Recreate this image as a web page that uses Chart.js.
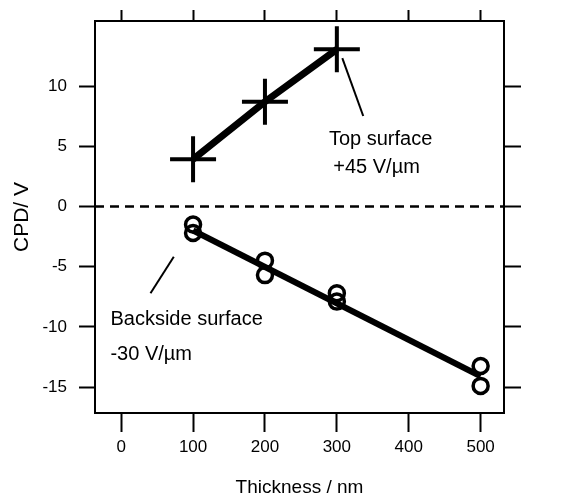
<!DOCTYPE html>
<html><head><meta charset="utf-8">
<script src="https://cdn.jsdelivr.net/npm/chart.js@4/dist/chart.umd.min.js"></script>
<style>html,body{margin:0;padding:0;background:#fff;}</style>
</head><body>
<canvas id="c" width="576" height="496" style="width:576px;height:496px;display:block"></canvas>
<script>
// ---- data ----
const thicknessTop = [100, 200, 300];
const cpdTop = [3.92, 8.7, 13.05];
const thicknessBack = [100, 100, 200, 200, 300, 300, 500, 500];
const cpdBack = [-1.5, -2.2, -4.5, -5.7, -7.2, -7.9, -13.25, -14.9];
const fitBackX = [100, 500];
const fitBackY = [-2.0, -14.1];
const xTicks = [0, 100, 200, 300, 400, 500];
const yTicks = [-15, -10, -5, 0, 5, 10];
const xRange = [-36.4, 532.5];
const yRange = [-17.15, 15.4];
const zeroLineY = 0;

const annotationTexts = [
  {text: 'Top surface', x: 289, y: 5.1},
  {text: '+45 V/\u00b5m', x: 295, y: 2.78},
  {text: 'Backside surface', x: -14.9, y: -9.87},
  {text: '-30 V/\u00b5m', x: -14.9, y: -12.74}
];
const leaderLines = [
  {x1: 307.6, y1: 12.32, x2: 336.7, y2: 7.51},
  {x1: 73.2, y1: -4.17, x2: 40.8, y2: -7.2}
];

const FONT = "'Liberation Sans', Arial, Helvetica, sans-serif";
const zip = (xs, ys) => xs.map((x, i) => ({x: x, y: ys[i]}));

const annotPlugin = {
  id: 'annot',
  afterDatasetsDraw(chart) {
    const ctx = chart.ctx, sx = chart.scales.x, sy = chart.scales.y;
    ctx.save();
    ctx.strokeStyle = '#000';
    ctx.lineWidth = 2;
    leaderLines.forEach(l => {
      ctx.beginPath();
      ctx.moveTo(sx.getPixelForValue(l.x1), sy.getPixelForValue(l.y1));
      ctx.lineTo(sx.getPixelForValue(l.x2), sy.getPixelForValue(l.y2));
      ctx.stroke();
    });
    ctx.fillStyle = '#000';
    ctx.font = '20px ' + FONT;
    ctx.textAlign = 'left';
    ctx.textBaseline = 'alphabetic';
    annotationTexts.forEach(a => {
      ctx.fillText(a.text, sx.getPixelForValue(a.x), sy.getPixelForValue(a.y));
    });
    ctx.restore();
  }
};

function forceTicks(vals) { return s => { s.ticks = vals.map(v => ({value: v})); }; }
function axis(pos, range, ticksArr, size, tickLen, showLabels, pad) {
  const horiz = pos === 'top' || pos === 'bottom';
  return {
    type: 'linear', position: pos, min: range[0], max: range[1],
    afterBuildTicks: forceTicks(ticksArr),
    afterFit: s => {
      if (horiz) s.height = size; else s.width = size;
      s.paddingTop = 0; s.paddingBottom = 0; s.paddingLeft = 0; s.paddingRight = 0;
    },
    grid: {drawOnChartArea: false, drawTicks: true, tickLength: tickLen, tickWidth: 2, tickColor: '#000'},
    border: {display: true, color: '#000', width: 2},
    ticks: {
      color: '#000', font: {family: FONT, size: 17}, padding: pad, maxRotation: 0, autoSkip: false,
      callback: showLabels ? (v => String(v)) : (() => '')
    }
  };
}

const xAxis = axis('bottom', xRange, xTicks, 83, 19, true, 5);
xAxis.title = {display: true, text: 'Thickness / nm', color: '#000', font: {family: FONT, size: 19, lineHeight: 0.84}, padding: 0};
const yAxis = axis('left', yRange, yTicks, 95, 16, true, 12);
yAxis.title = {display: true, text: 'CPD/ V', color: '#000', font: {family: FONT, size: 21, lineHeight: 1.2}, padding: {top: 10, bottom: 0}};
const x2Axis = axis('top', xRange, xTicks, 21, 11, false, 0);
const y2Axis = axis('right', yRange, yTicks, 72, 17, false, 0);

new Chart(document.getElementById('c'), {
  type: 'scatter',
  data: {
    datasets: [
      {
        label: 'zero', data: [{x: xRange[0], y: zeroLineY}, {x: xRange[1], y: zeroLineY}],
        showLine: true, borderColor: '#000', borderWidth: 2.5, borderDash: [9, 6], pointRadius: 0,
        xAxisID: 'x', yAxisID: 'y'
      },
      {
        label: 'Top surface', data: zip(thicknessTop, cpdTop), showLine: true,
        borderColor: '#000', borderWidth: 7, pointStyle: 'cross', pointRadius: 23,
        pointBorderWidth: 4, pointBorderColor: '#000', pointBackgroundColor: '#000',
        xAxisID: 'x', yAxisID: 'y'
      },
      {
        label: 'Backside fit', data: zip(fitBackX, fitBackY), showLine: true,
        borderColor: '#000', borderWidth: 6, pointRadius: 0, xAxisID: 'x', yAxisID: 'y'
      },
      {
        label: 'Backside surface', data: zip(thicknessBack, cpdBack), showLine: false,
        pointStyle: 'circle', pointRadius: 7.5, pointBorderWidth: 3.5, pointBorderColor: '#000',
        pointBackgroundColor: 'rgba(0,0,0,0)', xAxisID: 'x', yAxisID: 'y'
      }
    ]
  },
  options: {
    responsive: false, animation: false, devicePixelRatio: 1,
    layout: {padding: 0, autoPadding: false},
    plugins: {legend: {display: false}, tooltip: {enabled: false}},
    scales: {x: xAxis, y: yAxis, x2: x2Axis, y2: y2Axis}
  },
  plugins: [annotPlugin]
});
</script>
</body></html>
